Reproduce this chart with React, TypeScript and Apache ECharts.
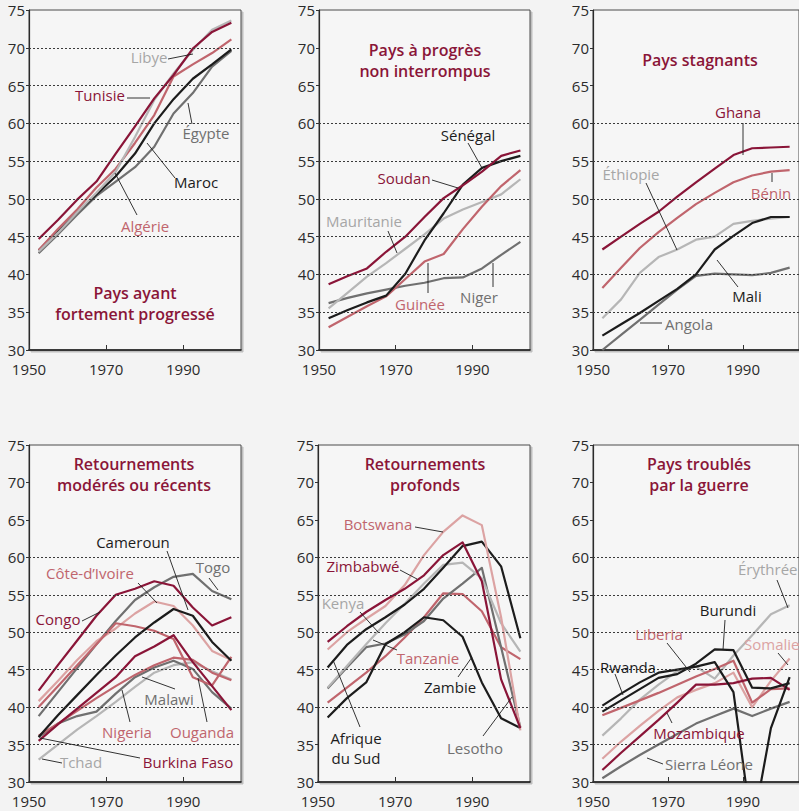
import React, { useEffect, useRef } from "react";
import * as echarts from "echarts";

// ---------- DATA ----------
const YEARS = [1952.5, 1957.5, 1962.5, 1967.5, 1972.5, 1977.5, 1982.5, 1987.5, 1992.5, 1997.5, 2002.5];
const Y_TICKS = [30, 35, 40, 45, 50, 55, 60, 65, 70, 75];
const X_TICKS = [1950, 1970, 1990];

// Panel 1 – Pays ayant fortement progressé
const TUNISIE = [44.7, 47.2, 49.9, 52.3, 56.0, 59.6, 63.3, 66.4, 69.9, 72.1, 73.3];
const LIBYE = [43.0, 45.5, 48.2, 50.8, 53.6, 58.2, 63.1, 66.6, 69.7, 72.4, 73.6];
const ALGERIE = [43.2, 46.0, 48.6, 51.5, 54.0, 57.4, 61.1, 66.2, 67.8, 69.3, 71.1];
const MAROC = [43.2, 45.7, 48.2, 50.6, 53.0, 56.0, 60.0, 63.2, 65.9, 67.8, 69.8];
const EGYPTE = [42.8, 45.3, 47.9, 50.4, 52.3, 54.2, 56.9, 61.3, 64.0, 67.5, 69.6];

// Panel 2 – Pays à progrès non interrompus
const SOUDAN = [38.7, 39.8, 40.8, 43.0, 45.0, 47.6, 50.1, 51.8, 53.6, 55.7, 56.4];
const SENEGAL = [34.2, 35.3, 36.3, 37.2, 40.1, 44.5, 48.1, 51.9, 54.1, 55.0, 55.7];
const MAURITANIE = [35.5, 37.6, 39.7, 41.5, 43.4, 45.3, 47.4, 48.6, 49.6, 50.6, 52.6];
const GUINEE = [33.0, 34.4, 35.8, 37.1, 39.4, 41.7, 42.7, 46.0, 49.0, 51.7, 53.8];
const NIGER = [36.2, 36.9, 37.5, 38.0, 38.5, 38.9, 39.5, 39.6, 40.8, 42.6, 44.3];

// Panel 3 – Pays stagnants
const GHANA = [43.3, 45.0, 46.7, 48.3, 50.3, 52.2, 54.0, 55.8, 56.7, 56.8, 56.9];
const BENIN = [38.2, 40.9, 43.5, 45.6, 47.5, 49.3, 50.8, 52.2, 53.1, 53.6, 53.8];
const ETHIOPIE = [34.2, 36.7, 40.2, 42.3, 43.3, 44.6, 45.0, 46.7, 47.1, 47.4, 47.6];
const MALI = [31.9, 33.4, 34.9, 36.5, 38.1, 40.0, 43.3, 45.1, 46.8, 47.6, 47.6];
const ANGOLA = [30.0, 32.0, 34.0, 36.0, 38.0, 39.8, 40.1, 40.0, 39.9, 40.2, 40.9];

// Panel 4 – Retournements modérés ou récents
const CONGO = [42.2, 45.6, 48.9, 52.2, 55.0, 55.8, 56.8, 56.2, 53.3, 50.9, 52.0];
const TOGO = [38.8, 42.0, 45.2, 48.4, 51.5, 54.3, 56.0, 57.4, 57.8, 55.5, 54.4];
const COTE_IVOIRE = [40.8, 43.5, 46.3, 48.8, 50.5, 52.5, 54.1, 53.5, 50.9, 47.5, 46.3];
const CAMEROUN = [36.0, 38.9, 41.6, 44.3, 46.9, 49.3, 51.3, 53.1, 52.2, 48.7, 46.2];
const OUGANDA = [40.0, 42.8, 45.6, 48.4, 51.2, 50.8, 50.2, 49.1, 44.0, 42.9, 46.7];
const BURKINA = [35.5, 37.7, 39.8, 41.9, 44.0, 46.8, 48.1, 49.6, 46.0, 42.8, 39.6];
const NIGERIA = [36.2, 37.8, 39.5, 41.2, 42.8, 44.3, 45.6, 46.6, 46.3, 44.6, 43.6];
const MALAWI = [36.0, 37.8, 38.8, 39.4, 41.8, 44.0, 45.3, 46.2, 45.1, 42.0, 39.8];
const TCHAD = [33.0, 35.0, 37.0, 38.8, 40.7, 42.7, 44.6, 45.6, 46.0, 44.8, 43.7];

// Panel 5 – Retournements profonds
const BOTSWANA = [47.7, 50.0, 51.8, 53.5, 56.3, 60.3, 63.4, 65.6, 64.3, 52.0, 36.9];
const ZIMBABWE = [48.7, 50.8, 52.7, 54.3, 55.8, 57.6, 60.3, 62.0, 56.8, 43.7, 37.2];
const AFRIQUE_SUD = [45.3, 48.3, 50.4, 52.0, 53.7, 55.8, 58.6, 61.5, 62.1, 58.8, 49.2];
const ZAMBIE = [38.6, 41.2, 43.3, 48.4, 50.0, 52.0, 51.6, 49.4, 43.3, 38.5, 37.2];
const KENYA = [42.6, 45.5, 48.4, 51.2, 53.8, 56.5, 59.0, 59.3, 57.2, 51.2, 47.4];
const LESOTHO = [42.5, 45.3, 48.0, 48.5, 49.7, 51.5, 54.5, 56.5, 58.6, 48.0, 37.3];
const TANZANIE = [40.6, 42.6, 44.6, 46.8, 49.3, 52.0, 55.2, 55.1, 52.8, 48.0, 46.4];

// Panel 6 – Pays troublés par la guerre
const RWANDA = [40.2, 41.8, 43.3, 44.6, 45.0, 45.4, 46.0, 42.0, 23.5, 37.2, 44.0];
const BURUNDI = [39.4, 40.9, 42.4, 43.9, 44.4, 45.8, 47.7, 47.6, 42.6, 42.5, 43.2];
const ERYTHREE = [36.2, 38.5, 41.0, 43.0, 44.8, 45.4, 43.8, 46.9, 49.6, 52.4, 53.6];
const LIBERIA = [38.9, 39.9, 40.9, 41.9, 43.0, 44.1, 45.1, 46.2, 40.6, 42.4, 42.5];
const SOMALIE = [33.1, 35.4, 37.5, 39.5, 41.3, 42.3, 43.2, 44.6, 40.0, 43.5, 46.5];
const MOZAMBIQUE = [31.6, 33.9, 36.1, 38.3, 40.6, 43.0, 43.0, 43.2, 43.8, 43.9, 42.3];
const SIERRA_LEONE = [30.5, 32.1, 33.6, 35.0, 36.4, 37.8, 38.8, 39.8, 38.8, 39.8, 40.7];

// ---------- STYLE ----------
const COL = {
  darkRed: "#8a1538",
  rose: "#c0656d",
  pink: "#dca3a3",
  black: "#1c1c1c",
  dgray: "#707070",
  lgray: "#b6b6b6",
  lgrayText: "#a6a6a6",
};
const FONT = "'Open Sans', 'Noto Sans', sans-serif";

type Ser = { name: string; values: number[]; color: string };
type Lab = { t: string; x: number; y: number; c: string; l?: number[]; align?: string };
type Panel = {
  box: { left: number; top: number; width: number; height: number };
  title: string;
  tx: number;
  ty: number;
  dashed: number[];
  series: Ser[];
  labels: Lab[];
};

const TOP_H = 340;
const BOT_H = 337;

const PANELS: Panel[] = [
  {
    box: { left: 29, top: 10, width: 212, height: TOP_H },
    title: "Pays ayant\nfortement progressé",
    tx: 135,
    ty: 303,
    dashed: [45, 50, 55, 60, 65, 70],
    series: [
      { name: "Égypte", values: EGYPTE, color: COL.dgray },
      { name: "Maroc", values: MAROC, color: COL.black },
      { name: "Algérie", values: ALGERIE, color: COL.rose },
      { name: "Libye", values: LIBYE, color: COL.lgray },
      { name: "Tunisie", values: TUNISIE, color: COL.darkRed },
    ],
    labels: [
      { t: "Libye", x: 149, y: 57, c: COL.lgrayText, l: [168, 59, 193, 54] },
      { t: "Tunisie", x: 100, y: 95, c: COL.darkRed, l: [127, 98, 150, 98] },
      { t: "Égypte", x: 206, y: 133, c: COL.dgray, l: [192, 124, 188, 103] },
      { t: "Maroc", x: 196, y: 182, c: COL.black, l: [175, 178, 147, 143] },
      { t: "Algérie", x: 145, y: 226, c: COL.rose, l: [137, 215, 115, 173] },
    ],
  },
  {
    box: { left: 319, top: 10, width: 211, height: TOP_H },
    title: "Pays à progrès\nnon interrompus",
    tx: 425,
    ty: 60,
    dashed: [35, 40, 45, 50, 55, 60],
    series: [
      { name: "Niger", values: NIGER, color: COL.dgray },
      { name: "Mauritanie", values: MAURITANIE, color: COL.lgray },
      { name: "Guinée", values: GUINEE, color: COL.rose },
      { name: "Sénégal", values: SENEGAL, color: COL.black },
      { name: "Soudan", values: SOUDAN, color: COL.darkRed },
    ],
    labels: [
      { t: "Sénégal", x: 468, y: 135, c: COL.black, l: [468, 143, 482, 168] },
      { t: "Soudan", x: 404, y: 178, c: COL.darkRed, l: [432, 180, 458, 188] },
      { t: "Mauritanie", x: 364, y: 221, c: COL.lgrayText, l: [388, 231, 397, 253] },
      { t: "Guinée", x: 420, y: 304, c: COL.rose, l: [428, 293, 428, 263] },
      { t: "Niger", x: 479, y: 297, c: COL.dgray, l: [493, 287, 493, 263] },
    ],
  },
  {
    box: { left: 593, top: 10, width: 212, height: TOP_H },
    title: "Pays stagnants",
    tx: 700,
    ty: 60,
    dashed: [35, 40, 45, 50, 55, 60],
    series: [
      { name: "Angola", values: ANGOLA, color: COL.dgray },
      { name: "Éthiopie", values: ETHIOPIE, color: COL.lgray },
      { name: "Mali", values: MALI, color: COL.black },
      { name: "Bénin", values: BENIN, color: COL.rose },
      { name: "Ghana", values: GHANA, color: COL.darkRed },
    ],
    labels: [
      { t: "Ghana", x: 738, y: 112, c: COL.darkRed, l: [743, 123, 743, 155] },
      { t: "Éthiopie", x: 631, y: 174, c: COL.lgrayText, l: [646, 183, 677, 250] },
      { t: "Bénin", x: 771, y: 193, c: COL.rose, l: [772, 182, 772, 173] },
      { t: "Mali", x: 747, y: 296, c: COL.black, l: [738, 287, 717, 260] },
      { t: "Angola", x: 689, y: 324, c: COL.dgray, l: [662, 323, 640, 323] },
    ],
  },
  {
    box: { left: 29, top: 445, width: 212, height: BOT_H },
    title: "Retournements\nmodérés ou récents",
    tx: 134,
    ty: 474,
    dashed: [35, 40, 45, 50, 55, 60],
    series: [
      { name: "Tchad", values: TCHAD, color: COL.lgray },
      { name: "Malawi", values: MALAWI, color: COL.dgray },
      { name: "Togo", values: TOGO, color: COL.dgray },
      { name: "Côte-d’Ivoire", values: COTE_IVOIRE, color: COL.pink },
      { name: "Nigeria", values: NIGERIA, color: COL.rose },
      { name: "Ouganda", values: OUGANDA, color: COL.rose },
      { name: "Cameroun", values: CAMEROUN, color: COL.black },
      { name: "Burkina Faso", values: BURKINA, color: COL.darkRed },
      { name: "Congo", values: CONGO, color: COL.darkRed },
    ],
    labels: [
      { t: "Cameroun", x: 133, y: 542, c: COL.black, l: [167, 551, 188, 610] },
      { t: "Togo", x: 213, y: 567, c: COL.dgray, l: [209, 578, 218, 590] },
      { t: "Côte-d’Ivoire", x: 90, y: 573, c: COL.rose, l: [138, 583, 157, 603] },
      { t: "Congo", x: 58, y: 619, c: COL.darkRed, l: [82, 621, 100, 612] },
      { t: "Malawi", x: 169, y: 699, c: COL.dgray, l: [175, 689, 142, 677] },
      { t: "Nigeria", x: 127, y: 732, c: COL.rose, l: [130, 722, 122, 690] },
      { t: "Ouganda", x: 202, y: 732, c: COL.rose, l: [207, 722, 198, 678] },
      { t: "Burkina Faso", x: 188, y: 762, c: COL.darkRed, l: [140, 758, 40, 738] },
      { t: "Tchad", x: 81, y: 762, c: COL.lgrayText, l: [62, 763, 42, 759] },
    ],
  },
  {
    box: { left: 318, top: 445, width: 212, height: BOT_H },
    title: "Retournements\nprofonds",
    tx: 425,
    ty: 474,
    dashed: [40, 45, 50, 55, 60],
    series: [
      { name: "Tanzanie", values: TANZANIE, color: COL.rose },
      { name: "Lesotho", values: LESOTHO, color: COL.dgray },
      { name: "Kenya", values: KENYA, color: COL.lgray },
      { name: "Zambie", values: ZAMBIE, color: COL.black },
      { name: "Afrique du Sud", values: AFRIQUE_SUD, color: COL.black },
      { name: "Botswana", values: BOTSWANA, color: COL.pink },
      { name: "Zimbabwé", values: ZIMBABWE, color: COL.darkRed },
    ],
    labels: [
      { t: "Botswana", x: 378, y: 524, c: COL.rose, l: [415, 527, 443, 532] },
      { t: "Zimbabwé", x: 363, y: 566, c: COL.darkRed, l: [400, 570, 417, 579] },
      { t: "Kenya", x: 343, y: 603, c: COL.lgrayText, l: [360, 612, 378, 632] },
      { t: "Tanzanie", x: 428, y: 658, c: COL.rose, l: [397, 650, 373, 640] },
      { t: "Zambie", x: 450, y: 687, c: COL.black, l: [458, 677, 472, 657] },
      { t: "Afrique\ndu Sud", x: 356, y: 748, c: COL.black, l: [360, 727, 333, 660] },
      { t: "Lesotho", x: 475, y: 748, c: COL.dgray, l: [483, 736, 512, 697] },
    ],
  },
  {
    box: { left: 593, top: 445, width: 212, height: BOT_H },
    title: "Pays troublés\npar la guerre",
    tx: 699,
    ty: 474,
    dashed: [35, 40, 45, 50, 55, 60],
    series: [
      { name: "Sierra Léone", values: SIERRA_LEONE, color: COL.dgray },
      { name: "Érythrée", values: ERYTHREE, color: COL.lgray },
      { name: "Somalie", values: SOMALIE, color: COL.pink },
      { name: "Liberia", values: LIBERIA, color: COL.rose },
      { name: "Mozambique", values: MOZAMBIQUE, color: COL.darkRed },
      { name: "Rwanda", values: RWANDA, color: COL.black },
      { name: "Burundi", values: BURUNDI, color: COL.black },
    ],
    labels: [
      { t: "Érythrée", x: 738, y: 569, c: COL.lgrayText, l: [777, 580, 788, 608], align: "left" },
      { t: "Burundi", x: 728, y: 610, c: COL.black, l: [725, 620, 723, 650] },
      { t: "Liberia", x: 659, y: 634, c: COL.rose, l: [667, 643, 690, 672] },
      { t: "Somalie", x: 744, y: 644, c: COL.pink, l: [778, 653, 788, 665], align: "left" },
      { t: "Rwanda", x: 628, y: 667, c: COL.black, l: [615, 674, 623, 695] },
      { t: "Mozambique", x: 699, y: 733, c: COL.darkRed, l: [672, 723, 667, 713] },
      { t: "Sierra Léone", x: 709, y: 764, c: COL.dgray, l: [663, 764, 647, 758] },
    ],
  },
];

function buildOption() {
  const grid: any[] = [];
  const xAxis: any[] = [];
  const yAxis: any[] = [];
  const series: any[] = [];
  const graphic: any[] = [];

  PANELS.forEach((p, i) => {
    grid.push({
      ...p.box,
      show: true,
      backgroundColor: "#f6f6f6",
      borderColor: "#4a4a4a",
      borderWidth: 1,
      shadowColor: "rgba(0,0,0,0.22)",
      shadowBlur: 1,
      shadowOffsetX: 2,
      shadowOffsetY: 2,
    });
    xAxis.push({
      type: "value",
      gridIndex: i,
      min: 1950,
      max: 2005,
      interval: 20,
      axisLine: { show: true, onZero: false, lineStyle: { color: "#1a1a1a", width: 1.6 } },
      axisTick: { show: true, inside: true, length: 5, customValues: X_TICKS, lineStyle: { color: "#333" } },
      axisLabel: {
        customValues: X_TICKS,
        formatter: (v: number) => String(v),
        color: "#2b2b2b",
        fontFamily: FONT,
        fontSize: 15,
        lineHeight: 16,
        margin: 11,
      },
      splitLine: { show: false },
    });
    yAxis.push({
      type: "value",
      gridIndex: i,
      min: 30,
      max: 75,
      interval: 5,
      axisLine: { show: true, onZero: false, lineStyle: { color: "#2a2a2a", width: 1.2 } },
      axisTick: { show: true, inside: false, length: 3, customValues: Y_TICKS, lineStyle: { color: "#333" } },
      axisLabel: {
        formatter: (v: number) => String(v),
        color: "#2b2b2b",
        fontFamily: FONT,
        fontSize: 15,
        lineHeight: 16,
        margin: 4,
      },
      splitLine: { show: false },
    });
    series.push({
      type: "line",
      xAxisIndex: i,
      yAxisIndex: i,
      data: [],
      z: 1,
      silent: true,
      markLine: {
        silent: true,
        symbol: ["none", "none"],
        label: { show: false },
        lineStyle: { color: "#3a3a3a", type: [2, 2], width: 1 },
        emphasis: { disabled: true },
        data: p.dashed.map((v) => ({ yAxis: v })),
      },
    });
    p.series.forEach((s) => {
      series.push({
        type: "line",
        name: s.name,
        xAxisIndex: i,
        yAxisIndex: i,
        z: 3,
        clip: true,
        symbol: "none",
        showSymbol: false,
        lineStyle: { color: s.color, width: 2.2, join: "round" },
        itemStyle: { color: s.color },
        emphasis: { disabled: true },
        data: YEARS.map((y, k) => [y, s.values[k]]),
      });
    });
    graphic.push({
      type: "text",
      x: p.tx,
      y: p.ty,
      z: 10,
      style: {
        text: p.title,
        fill: COL.darkRed,
        fontFamily: FONT,
        fontSize: 16,
        fontWeight: 600,
        lineHeight: 21,
        align: "center",
        verticalAlign: "middle",
      },
    });
    p.labels.forEach((lb) => {
      if (lb.l) {
        graphic.push({
          type: "line",
          z: 9,
          shape: { x1: lb.l[0], y1: lb.l[1], x2: lb.l[2], y2: lb.l[3] },
          style: { stroke: "#1e1e1e", lineWidth: 0.9 },
        });
      }
      graphic.push({
        type: "text",
        x: lb.x,
        y: lb.y,
        z: 10,
        style: {
          text: lb.t,
          fill: lb.c,
          fontFamily: FONT,
          fontSize: 15,
          lineHeight: 20,
          align: lb.align || "center",
          verticalAlign: "middle",
        },
      });
    });
  });

  return {
    animation: false,
    backgroundColor: "#f3f3f3",
    grid,
    xAxis,
    yAxis,
    series,
    graphic,
  };
}

export default function App() {
  const ref = useRef<HTMLDivElement>(null);
  useEffect(() => {
    if (!ref.current) return;
    const chart = echarts.init(ref.current, undefined, { renderer: "svg" });
    chart.setOption(buildOption() as any);
    return () => chart.dispose();
  }, []);
  return (
    <div
      ref={ref}
      style={{ position: "absolute", left: 0, top: 0, width: 799, height: 811 }}
    />
  );
}
